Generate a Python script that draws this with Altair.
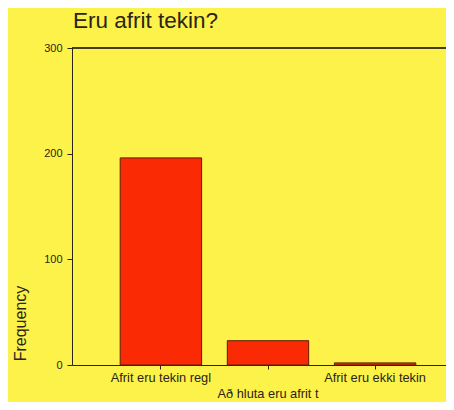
import altair as alt
import pandas as pd

title_text = "Eru afrit tekin?"
categories = ["Afrit eru tekin regl", "Að hluta eru afrit t", "Afrit eru ekki tekin"]
frequencies = [196, 23, 2]
y_ticks = [0, 100, 200, 300]

df = pd.DataFrame({"cat": categories, "freq": frequencies, "idx": list(range(len(categories)))})
title_df = pd.DataFrame({"t": [title_text]})

W, H = 374, 317
FONT = "Liberation Sans"
INK = "#2b2418"

xscale = alt.Scale(domain=categories, range=[0, 392], paddingInner=0.24, paddingOuter=0.45)
yscale = alt.Scale(domain=[0, 300], nice=False)

base = alt.Chart(df)

bars = base.mark_bar(color="#FA2A05", stroke="#5e1c05", strokeWidth=1).encode(
    x=alt.X("cat:N", scale=xscale, sort=categories,
            axis=alt.Axis(labels=False, title=None, ticks=True, tickSize=4,
                          tickColor=INK, domainColor=INK, grid=False)),
    y=alt.Y("freq:Q", scale=yscale,
            axis=alt.Axis(values=y_ticks, grid=False, tickSize=5, tickColor=INK,
                          domainColor=INK, labelFont=FONT, labelFontSize=11,
                          labelColor=INK, labelPadding=5,
                          title="Frequency", titleFont=FONT, titleFontSize=16,
                          titleFontWeight="normal", titleColor=INK,
                          titleAngle=270, titleX=-47, titleY=275,
                          titleAlign="center", titleBaseline="alphabetic")),
)

top_line = base.mark_rule(color=INK, strokeWidth=1).encode(
    x=alt.value(0), x2=alt.value(W + 30), y=alt.value(0)
)

labels_row0 = base.transform_filter("datum.idx % 2 == 0").mark_text(
    font=FONT, fontSize=12.8, color=INK, baseline="middle"
).encode(x=alt.X("cat:N", scale=xscale, sort=categories), text="cat:N", y=alt.value(330))

labels_row1 = base.transform_filter("datum.idx % 2 == 1").mark_text(
    font=FONT, fontSize=12.8, color=INK, baseline="middle"
).encode(x=alt.X("cat:N", scale=xscale, sort=categories), text="cat:N", y=alt.value(346))

title_mark = alt.Chart(title_df).mark_text(
    font=FONT, fontSize=22.5, color=INK, align="left", baseline="alphabetic"
).encode(x=alt.value(1), y=alt.value(-20), text="t:N")

chart = alt.layer(bars, top_line, labels_row0, labels_row1, title_mark).properties(
    width=W, height=H,
    autosize=alt.AutoSizeParams(type="none"),
    padding={"left": 64, "top": 40, "right": 0, "bottom": 37},
).configure(background="#FCF24A").configure_view(stroke=None)

chart.save("out.html", embed_options={"renderer": "svg", "actions": False})
